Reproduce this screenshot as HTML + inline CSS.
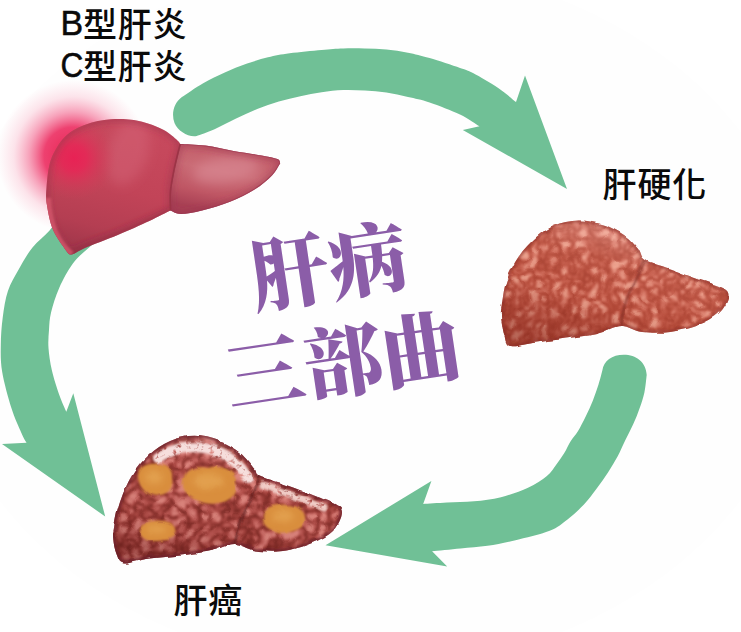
<!DOCTYPE html>
<html lang="zh-Hant">
<head>
<meta charset="utf-8">
<title>肝病三部曲</title>
<style>
html,body{margin:0;padding:0;background:#fff;}
body{width:741px;height:632px;overflow:hidden;position:relative;font-family:"Liberation Sans","Noto Sans CJK TC","Noto Sans CJK SC",sans-serif;}
svg{position:absolute;left:0;top:0;display:block;}
.lbl{font-family:"Liberation Sans","Noto Sans CJK TC","Noto Sans CJK SC",sans-serif;font-size:34px;fill:#0a0a0a;font-weight:500;letter-spacing:0.8px;}
.lat{stroke:#0a0a0a;stroke-width:0.5px;}
.ttl{font-family:"Liberation Serif","Noto Serif CJK TC","Noto Serif CJK SC",serif;font-weight:900;font-size:79px;fill:#8b5da8;}
</style>
</head>
<body>
<svg width="741" height="632" viewBox="0 0 741 632">
<defs>
  <radialGradient id="glow" cx="73" cy="156" r="76" gradientUnits="userSpaceOnUse">
    <stop offset="0" stop-color="#e8204f" stop-opacity="1"/>
    <stop offset="0.38" stop-color="#ec2c60" stop-opacity="0.9"/>
    <stop offset="0.58" stop-color="#f04878" stop-opacity="0.5"/>
    <stop offset="0.78" stop-color="#f46890" stop-opacity="0.18"/>
    <stop offset="1" stop-color="#f880a0" stop-opacity="0"/>
  </radialGradient>
  <radialGradient id="l1a" cx="76" cy="160" r="120" gradientUnits="userSpaceOnUse">
    <stop offset="0" stop-color="#e62452"/>
    <stop offset="0.22" stop-color="#d63a58"/>
    <stop offset="0.5" stop-color="#c4485a"/>
    <stop offset="1" stop-color="#b84456"/>
  </radialGradient>
  <linearGradient id="l1shade" x1="120" y1="120" x2="95" y2="255" gradientUnits="userSpaceOnUse">
    <stop offset="0" stop-color="#000" stop-opacity="0"/>
    <stop offset="0.7" stop-color="#7a1830" stop-opacity="0.05"/>
    <stop offset="1" stop-color="#7a1830" stop-opacity="0.35"/>
  </linearGradient>
  <linearGradient id="l1b" x1="232" y1="146" x2="218" y2="212" gradientUnits="userSpaceOnUse">
    <stop offset="0" stop-color="#c25c68"/>
    <stop offset="0.4" stop-color="#c96a74"/>
    <stop offset="0.75" stop-color="#bf5664"/>
    <stop offset="1" stop-color="#a84054"/>
  </linearGradient>
  <filter id="tex2" filterUnits="userSpaceOnUse" x="495" y="214" width="240" height="136" color-interpolation-filters="sRGB">
    <feTurbulence type="turbulence" baseFrequency="0.1" numOctaves="2" seed="4" result="t"/>
    <feColorMatrix in="t" type="matrix" values="1.8 0 0 0 0.05  1.8 0 0 0 0.05  1.8 0 0 0 0.05  0 0 0 0 1" result="g"/>
    <feComponentTransfer in="g" result="col0">
      <feFuncR type="table" tableValues="0.62 0.72 0.78 0.86 0.93"/>
      <feFuncG type="table" tableValues="0.23 0.30 0.37 0.49 0.64"/>
      <feFuncB type="table" tableValues="0.17 0.23 0.30 0.42 0.56"/>
    </feComponentTransfer>
    <feGaussianBlur in="col0" stdDeviation="0.8" result="col"/>
    <feComposite in="col" in2="SourceGraphic" operator="in"/>
  </filter>
  <filter id="tex3" filterUnits="userSpaceOnUse" x="108" y="430" width="240" height="136" color-interpolation-filters="sRGB">
    <feTurbulence type="turbulence" baseFrequency="0.085" numOctaves="2" seed="11" result="t"/>
    <feColorMatrix in="t" type="matrix" values="2.0 0 0 0 0.0  2.0 0 0 0 0.0  2.0 0 0 0 0.0  0 0 0 0 1" result="g"/>
    <feComponentTransfer in="g" result="col0">
      <feFuncR type="table" tableValues="0.44 0.59 0.69 0.78 0.86"/>
      <feFuncG type="table" tableValues="0.14 0.22 0.30 0.40 0.52"/>
      <feFuncB type="table" tableValues="0.12 0.20 0.28 0.38 0.49"/>
    </feComponentTransfer>
    <feGaussianBlur in="col0" stdDeviation="0.8" result="col"/>
    <feComposite in="col" in2="SourceGraphic" operator="in"/>
  </filter>
  <filter id="mottle" filterUnits="userSpaceOnUse" x="108" y="430" width="240" height="136" color-interpolation-filters="sRGB">
    <feTurbulence type="fractalNoise" baseFrequency="0.22" numOctaves="2" seed="5" result="t"/>
    <feColorMatrix in="t" type="matrix" values="0 0 0 0 1  0 0 0 0 1  0 0 0 0 1  4 0 0 0 -0.75" result="m"/>
    <feGaussianBlur in="SourceGraphic" stdDeviation="1.2" result="sg"/>
    <feComposite in="sg" in2="m" operator="in"/>
  </filter>
  <filter id="disp2" filterUnits="userSpaceOnUse" x="490" y="210" width="250" height="145" color-interpolation-filters="sRGB">
    <feTurbulence type="fractalNoise" baseFrequency="0.09" numOctaves="1" seed="2" result="d"/>
    <feDisplacementMap in="SourceGraphic" in2="d" scale="4.5" xChannelSelector="R" yChannelSelector="G"/>
  </filter>
  <filter id="disp3" filterUnits="userSpaceOnUse" x="103" y="425" width="250" height="145" color-interpolation-filters="sRGB">
    <feTurbulence type="fractalNoise" baseFrequency="0.09" numOctaves="1" seed="8" result="d"/>
    <feDisplacementMap in="SourceGraphic" in2="d" scale="4.5" xChannelSelector="R" yChannelSelector="G"/>
  </filter>
  <filter id="blur1" x="-20%" y="-20%" width="140%" height="140%"><feGaussianBlur stdDeviation="1.2"/></filter>
  <filter id="blur3" x="-30%" y="-30%" width="160%" height="160%"><feGaussianBlur stdDeviation="3"/></filter>
  <filter id="blur6" x="-30%" y="-30%" width="160%" height="160%"><feGaussianBlur stdDeviation="6"/></filter>
  <linearGradient id="l2shade" x1="600" y1="215" x2="560" y2="348" gradientUnits="userSpaceOnUse">
    <stop offset="0" stop-color="#ffd0cc" stop-opacity="0.35"/>
    <stop offset="0.3" stop-color="#ffd0cc" stop-opacity="0.05"/>
    <stop offset="0.6" stop-color="#701810" stop-opacity="0.05"/>
    <stop offset="1" stop-color="#701810" stop-opacity="0.42"/>
  </linearGradient>
  <linearGradient id="l3shade" x1="215" y1="432" x2="185" y2="562" gradientUnits="userSpaceOnUse">
    <stop offset="0" stop-color="#ffe0e0" stop-opacity="0.2"/>
    <stop offset="0.3" stop-color="#ffd8d0" stop-opacity="0"/>
    <stop offset="0.75" stop-color="#501010" stop-opacity="0.08"/>
    <stop offset="1" stop-color="#501010" stop-opacity="0.32"/>
  </linearGradient>
  <linearGradient id="l1base" x1="130" y1="118" x2="95" y2="255" gradientUnits="userSpaceOnUse">
    <stop offset="0" stop-color="#c84a5e"/>
    <stop offset="0.5" stop-color="#c24458"/>
    <stop offset="0.8" stop-color="#b43e52"/>
    <stop offset="1" stop-color="#a0364a"/>
  </linearGradient>
  <radialGradient id="spot" cx="74" cy="158" r="42" gradientUnits="userSpaceOnUse">
    <stop offset="0" stop-color="#ec1e54" stop-opacity="0.9"/>
    <stop offset="0.3" stop-color="#ea2456" stop-opacity="0.8"/>
    <stop offset="0.65" stop-color="#e23058" stop-opacity="0.35"/>
    <stop offset="1" stop-color="#d83c5a" stop-opacity="0"/>
  </radialGradient>
  <clipPath id="c1a"><path d="M66.0,250.5C63.8,247.1 56.2,237.3 53.0,229.8 C49.8,222.3 48.1,212.3 47.0,205.3 C45.9,198.3 45.8,195.3 46.5,187.7 C47.2,180.1 47.9,168.1 51.0,159.6 C54.1,151.1 59.2,142.6 65.0,136.8 C70.8,131.0 78.4,127.5 86.0,124.6 C93.6,121.7 101.9,119.9 110.7,119.3 C119.5,118.7 130.0,119.2 138.8,121.0 C147.6,122.8 156.9,126.6 163.3,129.8 C169.7,133.0 174.6,138.1 177.4,140.4 C180.2,142.8 179.7,143.3 180.2,143.9C179.1,148.3 175.5,162.3 173.9,170.2 C172.3,178.1 171.0,184.5 170.4,191.2 C169.8,197.9 170.4,207.3 170.4,210.5C166.9,212.2 158.1,216.9 149.3,221.0 C140.5,225.1 128.2,230.6 117.7,235.0 C107.2,239.4 93.7,244.2 86.0,247.4 C78.3,250.7 74.8,254.0 71.5,254.5 C68.2,255.0 66.9,251.2 66.0,250.5Z"/></clipPath>
  <clipPath id="c1b"><path d="M180.2,143.9C184.4,144.2 196.5,144.4 205.4,145.6 C214.3,146.8 224.1,149.3 233.5,150.9 C242.9,152.5 254.3,154.1 261.6,155.4 C268.9,156.8 274.3,157.7 277.4,159.0 C280.5,160.3 279.7,162.5 280.2,163.2C278.8,165.2 276.3,171.0 272.0,175.4 C267.7,179.8 261.6,185.1 254.6,189.5 C247.6,193.9 238.8,198.3 230.0,201.8 C221.2,205.3 210.2,208.5 202.0,210.5 C193.8,212.5 186.2,214.0 180.9,214.0 C175.6,214.0 172.2,211.1 170.4,210.5C170.4,207.3 169.8,197.9 170.4,191.2 C171.0,184.5 172.3,178.1 173.9,170.2 C175.5,162.3 179.1,148.3 180.2,143.9Z"/></clipPath>
  <clipPath id="c2"><path d="M501.1,316.2C500.7,311.4 500.9,311.6 501.8,305.7 C502.7,299.8 503.6,289.2 506.4,281.0 C509.2,272.8 513.7,263.7 518.7,256.4 C523.7,249.1 530.5,242.2 536.4,237.0 C542.3,231.8 547.0,228.2 554.0,225.4 C561.0,222.6 570.4,220.5 578.6,220.4 C586.8,220.3 595.7,222.2 603.3,224.7 C610.9,227.2 618.5,231.1 624.4,235.2 C630.3,239.3 635.0,245.2 638.5,249.3 C642.0,253.4 640.2,256.7 645.5,259.9 C650.8,263.1 661.4,265.5 670.2,268.7 C679.0,271.9 689.6,276.1 698.4,279.3 C707.2,282.5 718.0,285.1 723.0,288.0 C728.0,290.9 728.9,292.8 728.3,296.9 C727.7,301.0 724.5,308.0 719.5,312.7 C714.5,317.4 706.6,321.8 698.4,325.0 C690.2,328.2 679.6,330.8 670.2,332.0 C660.8,333.2 650.2,333.0 642.0,332.0 C633.8,331.0 628.5,325.7 620.9,326.0 C613.3,326.3 605.6,331.9 596.2,334.0 C586.8,336.1 575.1,337.0 564.5,338.5 C553.9,340.0 541.9,341.8 532.8,343.0 C523.7,344.2 514.8,347.4 510.0,346.0 C505.2,344.6 505.7,339.5 504.2,334.5 C502.7,329.5 501.5,321.0 501.1,316.2Z"/></clipPath>
  <clipPath id="c3"><path d="M113.3,539.3C112.9,535.1 113.0,534.6 114.0,528.8 C115.0,522.9 116.4,513.0 119.3,504.2 C122.2,495.4 126.6,484.2 131.6,476.0 C136.5,467.8 142.6,460.8 149.0,455.0 C155.4,449.2 162.6,444.2 170.2,441.0 C177.8,437.8 186.5,435.8 194.7,435.8 C202.9,435.8 211.7,438.1 219.3,441.0 C226.9,443.9 234.6,448.6 240.4,453.3 C246.2,458.0 251.2,465.2 254.4,469.0 C257.6,472.8 254.3,473.3 259.6,476.0 C264.9,478.7 276.9,481.8 286.0,485.0 C295.1,488.2 305.8,492.2 314.0,495.4 C322.2,498.6 330.3,501.3 335.0,504.2 C339.7,507.1 342.3,508.5 342.0,513.0 C341.7,517.5 338.0,526.0 333.0,531.0 C328.0,536.0 320.2,539.7 312.0,543.0 C303.8,546.3 293.3,549.8 284.0,551.0 C274.7,552.2 264.2,551.7 256.0,550.5 C247.8,549.3 241.8,544.0 234.5,544.0 C227.2,544.0 221.3,548.6 212.3,550.5 C203.3,552.4 191.2,554.2 180.7,555.5 C170.1,556.8 158.4,557.2 149.0,558.5 C139.6,559.8 129.4,564.2 124.0,563.5 C118.6,562.8 118.3,558.0 116.5,554.0 C114.7,550.0 113.7,543.5 113.3,539.3Z"/></clipPath>
</defs>
<rect width="741" height="632" fill="#ffffff"/>
<ellipse cx="370" cy="316" rx="435" ry="352" fill="#fefefe"/>

<!-- arrows -->
<g fill="#70c096">
<path d="M62.0,212.0C60.0,215.0 54.8,224.2 49.8,230.2 C44.8,236.1 37.5,241.2 32.3,247.7 C27.1,254.2 22.9,262.0 18.8,269.2 C14.8,276.4 10.7,282.7 8.0,290.8 C5.3,298.9 3.9,308.7 2.7,317.7 C1.5,326.7 0.9,335.6 0.8,344.6 C0.7,353.7 0.4,361.4 2.2,372.0 C4.0,382.6 8.2,397.8 11.4,408.0 C14.6,418.2 19.0,427.4 21.5,433.2 C24.0,439.0 25.8,441.2 26.6,442.8L2.0,444.0L105.2,516.5L73.3,393.3L66.3,411.7C65.1,409.0 61.8,402.2 59.4,395.3 C57.0,388.4 53.6,377.9 51.8,370.0 C50.0,362.1 49.0,354.7 48.5,348.0 C48.0,341.3 48.6,335.9 49.0,330.0 C49.4,324.1 49.4,319.3 51.1,312.3 C52.8,305.3 55.6,296.1 59.2,288.0 C62.8,279.9 67.8,270.5 72.7,263.8 C77.6,257.1 82.6,253.0 88.8,247.7 C95.0,242.4 106.5,234.6 110.0,232.0Z"/>
<path d="M181.6,97.2C185.2,94.9 196.0,87.3 203.2,83.2 C210.4,79.1 217.6,75.6 224.8,72.4 C232.0,69.2 239.2,66.3 246.4,63.8 C253.6,61.3 260.8,59.1 268.0,57.3 C275.2,55.5 280.7,54.4 289.6,53.2 C298.5,52.0 312.7,50.7 321.6,49.9 C330.5,49.1 336.0,48.6 343.2,48.4 C350.4,48.1 357.6,48.2 364.8,48.4 C372.0,48.6 379.2,48.7 386.4,49.4 C393.6,50.1 400.8,51.2 408.0,52.7 C415.2,54.2 420.9,55.6 429.6,58.1 C438.3,60.6 452.8,65.5 460.0,68.0 C467.2,70.5 466.6,69.7 473.0,73.0 C479.4,76.3 491.0,83.2 498.2,88.0 C505.4,92.8 513.0,99.7 516.0,102.0L525.0,75.5L567.0,189.0L462.8,130.0L479.5,126.3C476.2,124.3 468.3,118.5 460.0,114.5 C451.7,110.5 438.3,105.3 429.6,102.4 C420.9,99.5 415.2,98.6 408.0,97.0 C400.8,95.4 393.6,93.7 386.4,92.6 C379.2,91.5 372.0,90.9 364.8,90.5 C357.6,90.1 350.4,89.7 343.2,90.0 C336.0,90.3 328.7,91.2 321.6,92.3 C314.5,93.3 307.5,94.8 300.4,96.3 C293.3,97.8 286.0,99.4 278.8,101.5 C271.6,103.6 264.4,106.1 257.2,109.0 C250.0,111.9 242.8,115.4 235.6,118.8 C228.4,122.2 220.5,126.7 214.0,129.6 C207.5,132.5 199.6,135.0 196.7,136.1C188,137.5 178,131 174.5,123 C171,113 174,103 181.6,97.2Z"/>
<path d="M646.7,375.0C646.3,377.9 645.6,386.9 644.4,392.5 C643.2,398.1 641.5,403.0 639.6,408.3 C637.8,413.6 635.7,418.8 633.3,424.1 C630.9,429.4 628.0,434.6 625.4,440.0 C622.8,445.4 620.6,450.8 617.7,456.2 C614.8,461.6 611.5,467.0 608.0,472.4 C604.5,477.8 600.8,483.2 596.7,488.6 C592.7,494.0 588.6,499.7 583.7,504.8 C578.8,509.9 573.2,515.1 567.5,519.4 C561.8,523.7 558.5,527.2 549.7,530.7 C540.9,534.2 524.9,537.9 514.5,540.4 C504.1,542.9 496.5,544.4 487.5,545.8 C478.5,547.1 469.7,547.6 460.5,548.5 C451.3,549.4 436.8,550.8 432.1,551.2L447.2,566.6L325.5,545.3L431.4,481.0L423.2,504.0C427.2,503.8 438.5,503.1 447.0,502.6 C455.5,502.2 465.0,502.2 474.0,501.3 C483.0,500.4 492.0,499.4 501.0,497.2 C510.0,494.9 520.4,491.3 528.0,487.8 C535.6,484.3 542.2,479.8 546.9,476.0 C551.6,472.2 553.1,468.8 556.0,465.0 C558.9,461.2 561.8,457.0 564.3,453.0 C566.8,449.0 568.5,444.6 570.8,441.0 C573.1,437.4 575.4,435.3 577.9,431.2 C580.4,427.1 583.3,421.3 585.8,416.2 C588.3,411.1 590.8,405.7 592.9,400.4 C595.0,395.1 596.9,389.6 598.5,384.6 C600.1,379.6 601.8,372.7 602.4,370.3C603.5,361 612,354.8 623.8,354.8 C636,354.8 646,362 646.7,375Z"/>
</g>

<!-- liver 1 -->
<circle cx="73" cy="156" r="76" fill="url(#glow)"/>
<path d="M66.0,250.5C63.8,247.1 56.2,237.3 53.0,229.8 C49.8,222.3 48.1,212.3 47.0,205.3 C45.9,198.3 45.8,195.3 46.5,187.7 C47.2,180.1 47.9,168.1 51.0,159.6 C54.1,151.1 59.2,142.6 65.0,136.8 C70.8,131.0 78.4,127.5 86.0,124.6 C93.6,121.7 101.9,119.9 110.7,119.3 C119.5,118.7 130.0,119.2 138.8,121.0 C147.6,122.8 156.9,126.6 163.3,129.8 C169.7,133.0 174.6,138.1 177.4,140.4 C180.2,142.8 179.7,143.3 180.2,143.9C179.1,148.3 175.5,162.3 173.9,170.2 C172.3,178.1 171.0,184.5 170.4,191.2 C169.8,197.9 170.4,207.3 170.4,210.5C166.9,212.2 158.1,216.9 149.3,221.0 C140.5,225.1 128.2,230.6 117.7,235.0 C107.2,239.4 93.7,244.2 86.0,247.4 C78.3,250.7 74.8,254.0 71.5,254.5 C68.2,255.0 66.9,251.2 66.0,250.5Z" fill="url(#l1base)"/>
<g clip-path="url(#c1a)">
<ellipse cx="128" cy="152" rx="20" ry="34" transform="rotate(18 128 152)" fill="#dc7488" fill-opacity="0.35" filter="url(#blur6)"/>
<circle cx="74" cy="158" r="42" fill="url(#spot)"/>
<path d="M66.0,250.5C63.8,247.1 56.2,237.3 53.0,229.8 C49.8,222.3 48.1,212.3 47.0,205.3 C45.9,198.3 45.8,195.3 46.5,187.7 C47.2,180.1 47.9,168.1 51.0,159.6 C54.1,151.1 59.2,142.6 65.0,136.8 C70.8,131.0 78.4,127.5 86.0,124.6 C93.6,121.7 101.9,119.9 110.7,119.3 C119.5,118.7 130.0,119.2 138.8,121.0 C147.6,122.8 156.9,126.6 163.3,129.8 C169.7,133.0 174.6,138.1 177.4,140.4 C180.2,142.8 179.7,143.3 180.2,143.9C179.1,148.3 175.5,162.3 173.9,170.2 C172.3,178.1 171.0,184.5 170.4,191.2 C169.8,197.9 170.4,207.3 170.4,210.5C166.9,212.2 158.1,216.9 149.3,221.0 C140.5,225.1 128.2,230.6 117.7,235.0 C107.2,239.4 93.7,244.2 86.0,247.4 C78.3,250.7 74.8,254.0 71.5,254.5 C68.2,255.0 66.9,251.2 66.0,250.5Z" fill="none" stroke="#96304a" stroke-opacity="0.5" stroke-width="6" filter="url(#blur3)"/>
<path d="M60,252 C100,240 140,222 172,208 L172,230 L60,270Z" fill="#8c2840" fill-opacity="0.35" filter="url(#blur3)"/>
<path d="M47,198 C47.5,210 50,222 54,232 C58,241 64,249 71,255" fill="none" stroke="#d4566c" stroke-opacity="0.8" stroke-width="8" filter="url(#blur1)"/>
</g>
<path d="M180.2,143.9C184.4,144.2 196.5,144.4 205.4,145.6 C214.3,146.8 224.1,149.3 233.5,150.9 C242.9,152.5 254.3,154.1 261.6,155.4 C268.9,156.8 274.3,157.7 277.4,159.0 C280.5,160.3 279.7,162.5 280.2,163.2C278.8,165.2 276.3,171.0 272.0,175.4 C267.7,179.8 261.6,185.1 254.6,189.5 C247.6,193.9 238.8,198.3 230.0,201.8 C221.2,205.3 210.2,208.5 202.0,210.5 C193.8,212.5 186.2,214.0 180.9,214.0 C175.6,214.0 172.2,211.1 170.4,210.5C170.4,207.3 169.8,197.9 170.4,191.2 C171.0,184.5 172.3,178.1 173.9,170.2 C175.5,162.3 179.1,148.3 180.2,143.9Z" fill="url(#l1b)"/>
<g clip-path="url(#c1b)">
<ellipse cx="226" cy="170" rx="34" ry="13" transform="rotate(-8 226 170)" fill="#dc8e98" fill-opacity="0.6" filter="url(#blur6)"/>
<path d="M180.2,143.9C184.4,144.2 196.5,144.4 205.4,145.6 C214.3,146.8 224.1,149.3 233.5,150.9 C242.9,152.5 254.3,154.1 261.6,155.4 C268.9,156.8 274.3,157.7 277.4,159.0 C280.5,160.3 279.7,162.5 280.2,163.2C278.8,165.2 276.3,171.0 272.0,175.4 C267.7,179.8 261.6,185.1 254.6,189.5 C247.6,193.9 238.8,198.3 230.0,201.8 C221.2,205.3 210.2,208.5 202.0,210.5 C193.8,212.5 186.2,214.0 180.9,214.0 C175.6,214.0 172.2,211.1 170.4,210.5C170.4,207.3 169.8,197.9 170.4,191.2 C171.0,184.5 172.3,178.1 173.9,170.2 C175.5,162.3 179.1,148.3 180.2,143.9Z" fill="none" stroke="#98304a" stroke-opacity="0.55" stroke-width="5" filter="url(#blur3)"/>
<path d="M180.2,143.9C184.4,144.2 196.5,144.4 205.4,145.6 C214.3,146.8 224.1,149.3 233.5,150.9 C242.9,152.5 254.3,154.1 261.6,155.4 C268.9,156.8 274.3,157.7 277.4,159.0 C280.5,160.3 279.7,162.5 280.2,163.2C278.8,165.2 276.3,171.0 272.0,175.4 C267.7,179.8 261.6,185.1 254.6,189.5 C247.6,193.9 238.8,198.3 230.0,201.8 C221.2,205.3 210.2,208.5 202.0,210.5 C193.8,212.5 186.2,214.0 180.9,214.0 C175.6,214.0 172.2,211.1 170.4,210.5C170.4,207.3 169.8,197.9 170.4,191.2 C171.0,184.5 172.3,178.1 173.9,170.2 C175.5,162.3 179.1,148.3 180.2,143.9Z" fill="none" stroke="#983850" stroke-opacity="0.7" stroke-width="1.6"/>
</g>
<path d="M180.2,143.9C179.1,148.3 175.5,162.3 173.9,170.2 C172.3,178.1 171.0,184.5 170.4,191.2 C169.8,197.9 170.4,207.3 170.4,210.5" fill="none" stroke="#9c3446" stroke-width="1.6"/>

<!-- liver 2 -->
<g filter="url(#disp2)">
<path d="M501.1,316.2C500.7,311.4 500.9,311.6 501.8,305.7 C502.7,299.8 503.6,289.2 506.4,281.0 C509.2,272.8 513.7,263.7 518.7,256.4 C523.7,249.1 530.5,242.2 536.4,237.0 C542.3,231.8 547.0,228.2 554.0,225.4 C561.0,222.6 570.4,220.5 578.6,220.4 C586.8,220.3 595.7,222.2 603.3,224.7 C610.9,227.2 618.5,231.1 624.4,235.2 C630.3,239.3 635.0,245.2 638.5,249.3 C642.0,253.4 640.2,256.7 645.5,259.9 C650.8,263.1 661.4,265.5 670.2,268.7 C679.0,271.9 689.6,276.1 698.4,279.3 C707.2,282.5 718.0,285.1 723.0,288.0 C728.0,290.9 728.9,292.8 728.3,296.9 C727.7,301.0 724.5,308.0 719.5,312.7 C714.5,317.4 706.6,321.8 698.4,325.0 C690.2,328.2 679.6,330.8 670.2,332.0 C660.8,333.2 650.2,333.0 642.0,332.0 C633.8,331.0 628.5,325.7 620.9,326.0 C613.3,326.3 605.6,331.9 596.2,334.0 C586.8,336.1 575.1,337.0 564.5,338.5 C553.9,340.0 541.9,341.8 532.8,343.0 C523.7,344.2 514.8,347.4 510.0,346.0 C505.2,344.6 505.7,339.5 504.2,334.5 C502.7,329.5 501.5,321.0 501.1,316.2Z" fill="#b5524a" filter="url(#tex2)"/>
<path d="M501.1,316.2C500.7,311.4 500.9,311.6 501.8,305.7 C502.7,299.8 503.6,289.2 506.4,281.0 C509.2,272.8 513.7,263.7 518.7,256.4 C523.7,249.1 530.5,242.2 536.4,237.0 C542.3,231.8 547.0,228.2 554.0,225.4 C561.0,222.6 570.4,220.5 578.6,220.4 C586.8,220.3 595.7,222.2 603.3,224.7 C610.9,227.2 618.5,231.1 624.4,235.2 C630.3,239.3 635.0,245.2 638.5,249.3 C642.0,253.4 640.2,256.7 645.5,259.9 C650.8,263.1 661.4,265.5 670.2,268.7 C679.0,271.9 689.6,276.1 698.4,279.3 C707.2,282.5 718.0,285.1 723.0,288.0 C728.0,290.9 728.9,292.8 728.3,296.9 C727.7,301.0 724.5,308.0 719.5,312.7 C714.5,317.4 706.6,321.8 698.4,325.0 C690.2,328.2 679.6,330.8 670.2,332.0 C660.8,333.2 650.2,333.0 642.0,332.0 C633.8,331.0 628.5,325.7 620.9,326.0 C613.3,326.3 605.6,331.9 596.2,334.0 C586.8,336.1 575.1,337.0 564.5,338.5 C553.9,340.0 541.9,341.8 532.8,343.0 C523.7,344.2 514.8,347.4 510.0,346.0 C505.2,344.6 505.7,339.5 504.2,334.5 C502.7,329.5 501.5,321.0 501.1,316.2Z" fill="url(#l2shade)"/>
<g clip-path="url(#c2)">
<path d="M501.1,316.2C500.7,311.4 500.9,311.6 501.8,305.7 C502.7,299.8 503.6,289.2 506.4,281.0 C509.2,272.8 513.7,263.7 518.7,256.4 C523.7,249.1 530.5,242.2 536.4,237.0 C542.3,231.8 547.0,228.2 554.0,225.4 C561.0,222.6 570.4,220.5 578.6,220.4 C586.8,220.3 595.7,222.2 603.3,224.7 C610.9,227.2 618.5,231.1 624.4,235.2 C630.3,239.3 635.0,245.2 638.5,249.3 C642.0,253.4 640.2,256.7 645.5,259.9 C650.8,263.1 661.4,265.5 670.2,268.7 C679.0,271.9 689.6,276.1 698.4,279.3 C707.2,282.5 718.0,285.1 723.0,288.0 C728.0,290.9 728.9,292.8 728.3,296.9 C727.7,301.0 724.5,308.0 719.5,312.7 C714.5,317.4 706.6,321.8 698.4,325.0 C690.2,328.2 679.6,330.8 670.2,332.0 C660.8,333.2 650.2,333.0 642.0,332.0 C633.8,331.0 628.5,325.7 620.9,326.0 C613.3,326.3 605.6,331.9 596.2,334.0 C586.8,336.1 575.1,337.0 564.5,338.5 C553.9,340.0 541.9,341.8 532.8,343.0 C523.7,344.2 514.8,347.4 510.0,346.0 C505.2,344.6 505.7,339.5 504.2,334.5 C502.7,329.5 501.5,321.0 501.1,316.2Z" fill="none" stroke="#8e3028" stroke-opacity="0.55" stroke-width="5" filter="url(#blur1)"/>
<path d="M645.5,259.9C643.9,263.2 639.2,273.3 636.0,280.0 C632.8,286.7 628.5,292.3 626.0,300.0 C623.5,307.7 621.8,321.7 620.9,326.0" fill="none" stroke="#7e2a26" stroke-opacity="0.8" stroke-width="2" filter="url(#blur1)"/>
</g>
</g>

<!-- liver 3 -->
<g filter="url(#disp3)">
<path d="M113.3,539.3C112.9,535.1 113.0,534.6 114.0,528.8 C115.0,522.9 116.4,513.0 119.3,504.2 C122.2,495.4 126.6,484.2 131.6,476.0 C136.5,467.8 142.6,460.8 149.0,455.0 C155.4,449.2 162.6,444.2 170.2,441.0 C177.8,437.8 186.5,435.8 194.7,435.8 C202.9,435.8 211.7,438.1 219.3,441.0 C226.9,443.9 234.6,448.6 240.4,453.3 C246.2,458.0 251.2,465.2 254.4,469.0 C257.6,472.8 254.3,473.3 259.6,476.0 C264.9,478.7 276.9,481.8 286.0,485.0 C295.1,488.2 305.8,492.2 314.0,495.4 C322.2,498.6 330.3,501.3 335.0,504.2 C339.7,507.1 342.3,508.5 342.0,513.0 C341.7,517.5 338.0,526.0 333.0,531.0 C328.0,536.0 320.2,539.7 312.0,543.0 C303.8,546.3 293.3,549.8 284.0,551.0 C274.7,552.2 264.2,551.7 256.0,550.5 C247.8,549.3 241.8,544.0 234.5,544.0 C227.2,544.0 221.3,548.6 212.3,550.5 C203.3,552.4 191.2,554.2 180.7,555.5 C170.1,556.8 158.4,557.2 149.0,558.5 C139.6,559.8 129.4,564.2 124.0,563.5 C118.6,562.8 118.3,558.0 116.5,554.0 C114.7,550.0 113.7,543.5 113.3,539.3Z" fill="#a3443f" filter="url(#tex3)"/>
<path d="M113.3,539.3C112.9,535.1 113.0,534.6 114.0,528.8 C115.0,522.9 116.4,513.0 119.3,504.2 C122.2,495.4 126.6,484.2 131.6,476.0 C136.5,467.8 142.6,460.8 149.0,455.0 C155.4,449.2 162.6,444.2 170.2,441.0 C177.8,437.8 186.5,435.8 194.7,435.8 C202.9,435.8 211.7,438.1 219.3,441.0 C226.9,443.9 234.6,448.6 240.4,453.3 C246.2,458.0 251.2,465.2 254.4,469.0 C257.6,472.8 254.3,473.3 259.6,476.0 C264.9,478.7 276.9,481.8 286.0,485.0 C295.1,488.2 305.8,492.2 314.0,495.4 C322.2,498.6 330.3,501.3 335.0,504.2 C339.7,507.1 342.3,508.5 342.0,513.0 C341.7,517.5 338.0,526.0 333.0,531.0 C328.0,536.0 320.2,539.7 312.0,543.0 C303.8,546.3 293.3,549.8 284.0,551.0 C274.7,552.2 264.2,551.7 256.0,550.5 C247.8,549.3 241.8,544.0 234.5,544.0 C227.2,544.0 221.3,548.6 212.3,550.5 C203.3,552.4 191.2,554.2 180.7,555.5 C170.1,556.8 158.4,557.2 149.0,558.5 C139.6,559.8 129.4,564.2 124.0,563.5 C118.6,562.8 118.3,558.0 116.5,554.0 C114.7,550.0 113.7,543.5 113.3,539.3Z" fill="url(#l3shade)"/>
<g clip-path="url(#c3)">
<g filter="url(#mottle)" fill="none" stroke-linecap="round">
<path d="M158,458 C172,448 192,445 210,449 C228,454 240,464 248,478" stroke="#f6dedc" stroke-width="10"/>
<path d="M263,485 C284,492 304,499 324,508" stroke="#f0ccc6" stroke-width="7"/>
</g>
<path d="M113.3,539.3C112.9,535.1 113.0,534.6 114.0,528.8 C115.0,522.9 116.4,513.0 119.3,504.2 C122.2,495.4 126.6,484.2 131.6,476.0 C136.5,467.8 142.6,460.8 149.0,455.0 C155.4,449.2 162.6,444.2 170.2,441.0 C177.8,437.8 186.5,435.8 194.7,435.8 C202.9,435.8 211.7,438.1 219.3,441.0 C226.9,443.9 234.6,448.6 240.4,453.3 C246.2,458.0 251.2,465.2 254.4,469.0 C257.6,472.8 254.3,473.3 259.6,476.0 C264.9,478.7 276.9,481.8 286.0,485.0 C295.1,488.2 305.8,492.2 314.0,495.4 C322.2,498.6 330.3,501.3 335.0,504.2 C339.7,507.1 342.3,508.5 342.0,513.0 C341.7,517.5 338.0,526.0 333.0,531.0 C328.0,536.0 320.2,539.7 312.0,543.0 C303.8,546.3 293.3,549.8 284.0,551.0 C274.7,552.2 264.2,551.7 256.0,550.5 C247.8,549.3 241.8,544.0 234.5,544.0 C227.2,544.0 221.3,548.6 212.3,550.5 C203.3,552.4 191.2,554.2 180.7,555.5 C170.1,556.8 158.4,557.2 149.0,558.5 C139.6,559.8 129.4,564.2 124.0,563.5 C118.6,562.8 118.3,558.0 116.5,554.0 C114.7,550.0 113.7,543.5 113.3,539.3Z" fill="none" stroke="#6a2026" stroke-opacity="0.7" stroke-width="5" filter="url(#blur1)"/>
<path d="M259.6,476.0C258.3,479.7 254.9,491.0 252.0,498.0 C249.1,505.0 244.9,510.3 242.0,518.0 C239.1,525.7 235.8,539.7 234.5,544.0" fill="none" stroke="#5e1c1c" stroke-opacity="0.85" stroke-width="2.2" filter="url(#blur1)"/>
<g fill="#d98e3c" filter="url(#blur1)">
<path d="M138,478 C137,468 146,463 156,464 C166,463 173,468 172,478 C174,488 168,494 160,495 C150,498 140,490 138,478Z"/>
<path d="M183,482 C184,470 196,465 208,468 C220,464 236,470 236,482 C238,494 230,502 218,503 C206,506 196,500 190,496 C185,492 182,488 183,482Z"/>
<path d="M140,532 C141,524 150,520 160,521 C170,520 177,526 175,533 C174,539 164,541 156,541 C148,542 140,538 140,532Z"/>
<path d="M263,518 C263,509 274,504 284,505 C296,504 306,510 305,519 C305,527 298,530 290,532 C282,536 274,532 268,528 C264,525 263,522 263,518Z"/>
</g>
<g fill="#e6a654" fill-opacity="0.7" filter="url(#blur3)">
<ellipse cx="154" cy="477" rx="9" ry="7"/>
<ellipse cx="208" cy="481" rx="15" ry="8"/>
<ellipse cx="157" cy="529" rx="10" ry="4"/>
<ellipse cx="283" cy="516" rx="11" ry="6"/>
</g>
</g>
</g>

<!-- labels -->
<text class="lbl lat" transform="translate(60.5,35.3) scale(1,1.02)">B</text><text class="lbl" id="lb1" x="83" y="36.8">型肝炎</text>
<text class="lbl lat" transform="translate(60.6,77.2) scale(0.93,1.02)">C</text><text class="lbl" id="lb2" x="83" y="78.5">型肝炎</text>
<text class="lbl" id="lb3" x="602.6" y="197.2">肝硬化</text>
<text class="lbl" id="lb4" x="173.5" y="612.5">肝癌</text>

<!-- title -->
<g transform="translate(336,315) rotate(-8.5)" text-anchor="middle">
<text class="ttl" id="t1" x="0" y="-20">肝病</text>
<text class="ttl" id="t2" x="0" y="76">三部曲</text>
</g>
</svg>
</body>
</html>
